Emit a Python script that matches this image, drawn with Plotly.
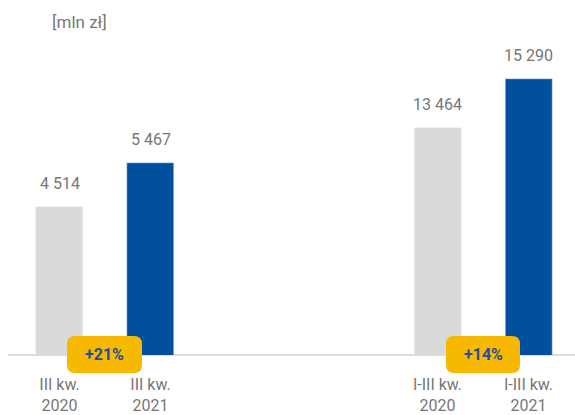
import plotly.graph_objects as go

# ---- data ----
categories_left = ["III kw.<br>2020", "III kw.<br>2021"]
categories_right = ["I-III kw.<br>2020", "I-III kw.<br>2021"]
values_left = [4514, 5467]
values_right = [13464, 15290]
unit_label = "[mln zł]"

GREY = "#D9DADA"
BLUE = "#00509E"
YELLOW = "#F6B900"
BADGE_TXT = "#1F4F9B"
TXT = "#777777"
FONT = "Roboto"

W, H = 575, 415
BASE = 355  # baseline pixel row


def px(x):
    return x / W


def py(y):
    return (BASE - y) / BASE


def fmt(v):
    return f"{v:,}".replace(",", " ")


def pct(a, b):
    return f"+{round((b / a - 1) * 100)}%"


def rounded_path(x0, y0, x1, y1, r):
    rx, ry = r / W, r / BASE
    X0, X1 = px(x0), px(x1)
    Y0, Y1 = py(y0), py(y1)  # Y0 top, Y1 bottom
    return (
        f"M {X0+rx},{Y0} L {X1-rx},{Y0} Q {X1},{Y0} {X1},{Y0-ry} "
        f"L {X1},{Y1+ry} Q {X1},{Y1} {X1-rx},{Y1} "
        f"L {X0+rx},{Y1} Q {X0},{Y1} {X0},{Y1+ry} "
        f"L {X0},{Y0-ry} Q {X0},{Y0} {X0+rx},{Y0} Z"
    )


fig = go.Figure()
bw = 47 / 91
fig.add_trace(go.Bar(x=categories_left, y=values_left, marker_color=[GREY, BLUE],
                     width=bw, xaxis="x", yaxis="y", hoverinfo="skip"))
fig.add_trace(go.Bar(x=categories_right, y=values_right, marker_color=[GREY, BLUE],
                     width=bw, xaxis="x2", yaxis="y2", hoverinfo="skip"))

annotations = []
for cats, vals, xr, yr in [(categories_left, values_left, "x", "y"),
                           (categories_right, values_right, "x2", "y2")]:
    for c, v in zip(cats, vals):
        annotations.append(dict(x=c, y=v, xref=xr, yref=yr, text=fmt(v), showarrow=False,
                                yanchor="bottom", yshift=12,
                                font=dict(family=FONT, size=16, color=TXT)))

shapes = [dict(type="line", xref="paper", yref="paper", x0=px(8), x1=1, y0=0, y1=0,
               line=dict(color="#DCDCDC", width=2), layer="below")]

for (x0, x1), vals in [((67, 142), values_left), ((446, 520), values_right)]:
    shapes.append(dict(type="path", xref="paper", yref="paper",
                       path=rounded_path(x0, 336, x1, 373, 8),
                       fillcolor=YELLOW, line=dict(width=0), layer="above"))
    annotations.append(dict(x=px((x0 + x1) / 2), y=py(354.5), xref="paper", yref="paper",
                            text=f"<b>{pct(vals[0], vals[1])}</b>", showarrow=False,
                            xanchor="center", yanchor="middle",
                            font=dict(family=FONT, size=16, color=BADGE_TXT)))

annotations.append(dict(x=px(50), y=py(22), xref="paper", yref="paper", text=unit_label,
                        showarrow=False, xanchor="left", yanchor="middle",
                        font=dict(family=FONT, size=17, color=TXT)))

axis_common = dict(type="category", showgrid=False, zeroline=False, showline=False,
                   ticks="", ticklabelstandoff=18,
                   tickfont=dict(family=FONT, size=16, color=TXT), fixedrange=True)

fig.update_layout(
    width=W, height=H, autosize=False,
    margin=dict(l=0, r=0, t=0, b=H - BASE, pad=0),
    paper_bgcolor="white", plot_bgcolor="white",
    showlegend=False, bargap=0,
    xaxis=dict(domain=[0, 0.5], range=[-59.5 / 91, (287.5 - 59.5) / 91], anchor="y", **axis_common),
    xaxis2=dict(domain=[0.5, 1], range=[(287.5 - 437.5) / 91, (575 - 437.5) / 91], anchor="y2", **axis_common),
    yaxis=dict(range=[1308.5, 8997.5], visible=False, domain=[0, 1], fixedrange=True),
    yaxis2=dict(range=[5005, 18234], visible=False, domain=[0, 1], anchor="x2", fixedrange=True),
    annotations=annotations,
    shapes=shapes,
)

fig.write_html("out.html", config={"displayModeBar": False},
               post_script="document.body.style.margin='0';document.body.style.overflow='hidden';")
